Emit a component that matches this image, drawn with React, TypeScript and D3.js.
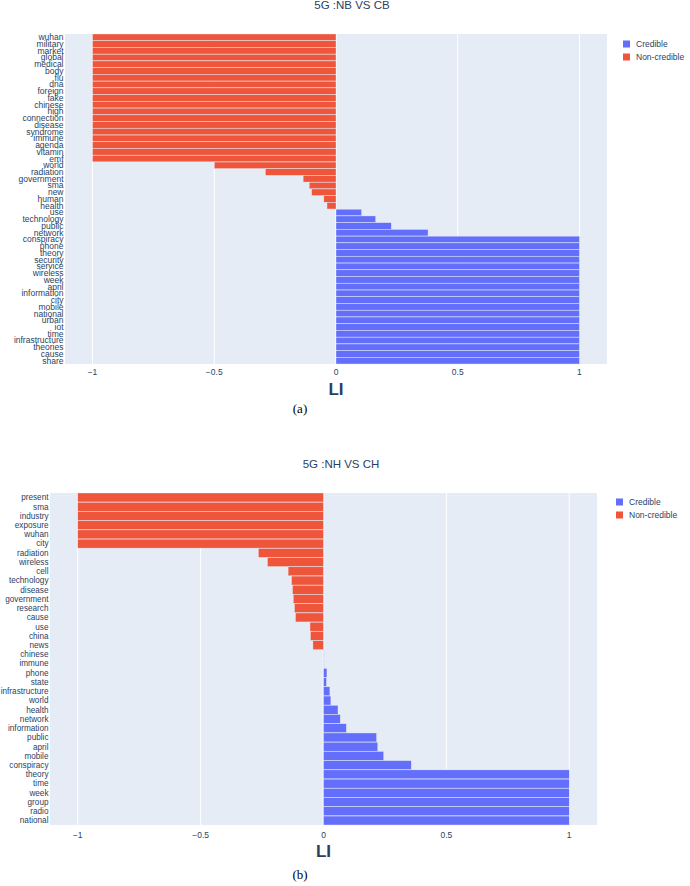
import * as d3 from "d3";

// panel (a): 5G :NB VS CB
const wordsA = [
  "wuhan", "military", "market", "global", "medical", "body", "flu", "dna", "foreign", "fake",
  "chinese", "high", "connection", "disease", "syndrome", "immune", "agenda", "vitamin", "emf",
  "world", "radiation", "government", "sma", "new", "human", "health",
  "use", "technology", "public", "network",
  "conspiracy", "phone", "theory", "security", "service", "wireless", "week", "april",
  "information", "city", "mobile", "national", "urban", "iot", "time", "infrastructure",
  "theories", "cause", "share",
];
const liA = [
  -1, -1, -1, -1, -1, -1, -1, -1, -1, -1,
  -1, -1, -1, -1, -1, -1, -1, -1, -1,
  -0.5, -0.29, -0.135, -0.11, -0.1, -0.05, -0.037,
  0.105, 0.163, 0.227, 0.378,
  1, 1, 1, 1, 1, 1, 1, 1,
  1, 1, 1, 1, 1, 1, 1, 1,
  1, 1, 1,
];

// panel (b): 5G :NH VS CH
const wordsB = [
  "present", "sma", "industry", "exposure", "wuhan", "city",
  "radiation", "wireless", "cell", "technology", "disease", "government", "research", "cause",
  "use", "china", "news",
  "chinese", "immune", "phone", "state", "infrastructure", "world", "health", "network",
  "information", "public", "april", "mobile", "conspiracy",
  "theory", "time", "week", "group", "radio", "national",
];
const liB = [
  -1, -1, -1, -1, -1, -1,
  -0.265, -0.228, -0.144, -0.13, -0.126, -0.123, -0.118, -0.114,
  -0.055, -0.053, -0.043,
  0.003, 0.003, 0.014, 0.012, 0.026, 0.03, 0.059, 0.068,
  0.093, 0.216, 0.221, 0.245, 0.357,
  1, 1, 1, 1, 1, 1,
];

const tickValues = [-1, -0.5, 0, 0.5, 1];
const seriesNames = ["Credible", "Non-credible"];
const seriesColors = ["#636efa", "#ef553b"];

const textColor = "#2a3f5f";
const sans = "'Liberation Sans', Arial, sans-serif";

type PanelProps = {
  title: string;
  caption: string;
  words: string[];
  values: number[];
  left: number;
  right: number;
  top: number;
  bottom: number;
  labelSize: number;
  titleX: number;
  titleY: number;
  legendX: number;
  legendY: number;
  tickY: number;
  axisTitleY: number;
  captionY: number;
};

function Panel(p: PanelProps) {
  const x = d3.scaleLinear().domain([-1.113, 1.113]).range([p.left, p.right]);
  const y = d3.scaleBand<string>().domain(p.words).range([p.top, p.bottom]).paddingInner(0.03);
  const fmt = (v: number) => (v === 0 ? "0" : d3.format("")(v).replace("-", "\u2212"));

  return (
    <g>
      <text x={p.titleX} y={p.titleY} textAnchor="middle" fontFamily={sans} fontSize={11.5} fill={textColor}>
        {p.title}
      </text>
      <rect x={p.left} y={p.top} width={p.right - p.left} height={p.bottom - p.top} fill="#e5ecf6" />
      {tickValues.map((t) => (
        <line key={t} x1={x(t)} x2={x(t)} y1={p.top} y2={p.bottom} stroke="#ffffff" strokeWidth={t === 0 ? 1.5 : 1} />
      ))}
      {p.words.map((w, i) => {
        const v = p.values[i];
        const x0 = Math.min(x(0), x(v));
        return (
          <rect
            key={w}
            x={x0}
            y={y(w)}
            width={Math.max(Math.abs(x(v) - x(0)), 0.6)}
            height={y.bandwidth()}
            fill={v >= 0 ? seriesColors[0] : seriesColors[1]}
            stroke="#e5ecf6"
            strokeWidth={0.4}
            opacity={Math.abs(v) < 0.005 ? 0.5 : 1}
          />
        );
      })}
      {p.words.map((w) => (
        <text
          key={w}
          x={p.left - 1.5}
          y={(y(w) ?? 0) + y.bandwidth() / 2}
          dy="0.35em"
          textAnchor="end"
          fontFamily={sans}
          fontSize={p.labelSize}
          fill={textColor}
        >
          {w}
        </text>
      ))}
      {tickValues.map((t) => (
        <text key={t} x={x(t)} y={p.tickY} textAnchor="middle" fontFamily={sans} fontSize={8.5} fill={textColor}>
          {fmt(t)}
        </text>
      ))}
      <text x={x(0)} y={p.axisTitleY} textAnchor="middle" fontFamily={sans} fontSize={17} fontWeight="bold" fill={textColor}>
        LI
      </text>
      {seriesNames.map((s, i) => (
        <g key={s}>
          <rect x={p.legendX} y={p.legendY + i * 13 - 3.5} width={7} height={7} fill={seriesColors[i]} />
          <text x={p.legendX + 13} y={p.legendY + i * 13} dy="0.35em" fontFamily={sans} fontSize={8.5} fill={textColor}>
            {s}
          </text>
        </g>
      ))}
      <text x={300} y={p.captionY} textAnchor="middle" fontFamily="'Liberation Serif', 'DejaVu Serif', serif" fontSize={13} fill="#000">
        {p.caption}
      </text>
    </g>
  );
}

export default function App() {
  return (
    <svg width={690} height={886} style={{ position: "absolute", left: 0, top: 0, background: "#fff" }}>
      <Panel
        title="5G :NB VS CB"
        caption="(a)"
        words={wordsA}
        values={liA}
        left={65}
        right={607}
        top={34}
        bottom={364}
        labelSize={8.5}
        titleX={352}
        titleY={9}
        legendX={623}
        legendY={44}
        tickY={375}
        axisTitleY={395}
        captionY={413}
      />
      <Panel
        title="5G :NH VS CH"
        caption="(b)"
        words={wordsB}
        values={liB}
        left={50}
        right={597}
        top={493}
        bottom={825}
        labelSize={8.2}
        titleX={341}
        titleY={468}
        legendX={616}
        legendY={502}
        tickY={838}
        axisTitleY={857}
        captionY={879}
      />
    </svg>
  );
}
